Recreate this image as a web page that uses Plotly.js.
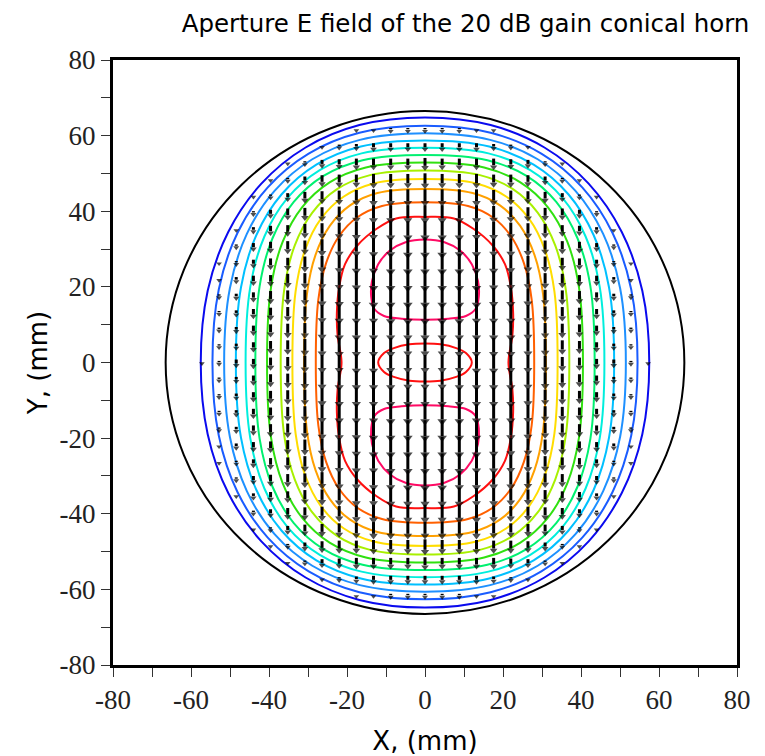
<!DOCTYPE html>
<html><head><meta charset="utf-8">
<script src="https://cdn.plot.ly/plotly-3.0.1.min.js"></script>
<style>html,body{margin:0;padding:0;background:#fff}#chart{width:765px;height:756px}</style>
</head><body><div id="chart"></div>
<script>
// ---------------- DATA (mm) ----------------
const apertureRadius = 66.5;
const tickVals = [-80,-60,-40,-20,0,20,40,60,80];
const tickLabels = ['-80','-60','-40','-20','0','20','40','60','80'];
// arrow grid positions (mm)
const gridPos = [-66,-61.6,-57.2,-52.8,-48.4,-44,-39.6,-35.2,-30.8,-26.4,-22,-17.6,-13.2,-8.8,-4.4,0,
                 4.4,8.8,13.2,17.6,22,26.4,30.8,35.2,39.6,44,48.4,52.8,57.2,61.6,66];
// contour level values (relative |E|), outer -> inner
const levelValues = [0.07,0.14,0.21,0.29,0.36,0.43,0.5,0.57,0.64,0.71,0.79,0.86,0.93];
const levelColors = ['#0a0aee','#1a5cff','#1e90ff','#00c0ff','#00eedd','#00f070','#30e010',
                     '#a8f000','#ffdd00','#ffa000','#ff6000','#ff1010','#ff0a64'];
// quadrant points of each closed contour, from (x,0) to (0,y)
const L1x=[57.5,55.72,50.45,41.96,30.62,16.82,0],  L1y=[0,18.96,34.51,47.29,56.86,62.79,64.8];
const L2x=[54.5,52.88,48.09,40.32,29.83,16.82,0],  L2y=[0,19.32,34.26,46.32,55.24,60.74,62.6];
const L3x=[51.5,50.03,45.68,38.58,28.9,16.7,0],    L3y=[0,19.65,34.01,45.4,53.75,58.87,60.6];
const L4x=[48.5,47.18,43.23,36.76,27.86,16.45,0],  L4y=[0,19.91,33.72,44.49,52.32,57.1,58.7];
const L5x=[46,44.79,41.18,35.24,26.99,16.27,0],    L5y=[0,20.08,33.32,43.51,50.85,55.31,56.8];
const L6x=[43.5,42.4,39.1,33.65,26.03,15.99,0],    L6y=[0,20.18,32.86,42.47,49.35,53.51,54.9];
const L7x=[40.5,39.49,36.48,31.48,24.46,15.16,0],  L7y=[0,19.8,31.95,41.11,47.65,51.58,52.9];
const L8x=[37,36.09,33.39,28.89,22.55,14.09,0],    L8y=[0,19.34,30.96,39.66,45.84,49.56,50.8];
const L9x=[34,33.18,30.74,26.66,20.9,13.17,0],     L9y=[0,18.78,29.82,38.03,43.84,47.34,48.5];
const L10x=[31,30.27,28.07,24.41,19.22,12.2,0],    L10y=[0,18.07,28.46,36.14,41.57,44.82,45.9];
const L11x=[28,27.34,25.36,22.05,17.36,11.02,0],   L11y=[0,16.69,26.29,33.39,38.4,41.4,42.4];
const L12x=[21.4,22.4,22.6,22,20.5,17.3,12.5,7.4,0], L12y=[0,7,13,20,26,31,35.3,38.1,38.5];
// level-12 central dip (closed ellipse-like)
const dipX=[12,10.5,8,4,0], dipY=[0,2.5,3.8,4.8,5];
// level-13 lobes: right half of upper lobe, top -> bottom
const lobeX=[0,5,9,12,13.6,13.8,13,10.5,6,0], lobeY=[32.5,31.8,29.6,26,21.5,17.5,14.2,12.3,11.6,11.3];

// ---------------- BUILD ----------------
function closeQuad(qx,qy){
  const n=qx.length,X=[],Y=[];
  for(let i=0;i<n;i++){X.push(qx[i]);Y.push(qy[i]);}
  for(let i=n-2;i>=0;i--){X.push(-qx[i]);Y.push(qy[i]);}
  for(let i=1;i<n;i++){X.push(-qx[i]);Y.push(-qy[i]);}
  for(let i=n-2;i>=0;i--){X.push(qx[i]);Y.push(-qy[i]);}
  return {X,Y};
}
function closeHalf(hx,hy,s){
  const n=hx.length,X=[],Y=[];
  for(let i=0;i<n;i++){X.push(hx[i]);Y.push(s*hy[i]);}
  for(let i=n-2;i>=0;i--){X.push(-hx[i]);Y.push(s*hy[i]);}
  return {X,Y};
}
const quadX=[L1x,L2x,L3x,L4x,L5x,L6x,L7x,L8x,L9x,L10x,L11x,L12x];
const quadY=[L1y,L2y,L3y,L4y,L5y,L6y,L7y,L8y,L9y,L10y,L11y,L12y];
const rings = quadX.map((qx,i)=>closeQuad(qx,quadY[i]));
const dip = closeQuad(dipX,dipY);
const lobeTop = closeHalf(lobeX,lobeY,1), lobeBot = closeHalf(lobeX,lobeY,-1);

const traces=[];
function lineTrace(c,color){
  return {type:'scatter',mode:'lines',x:c.X,y:c.Y,hoverinfo:'skip',showlegend:false,
          line:{color:color,width:2,shape:'spline',smoothing:1}};
}
rings.forEach((c,i)=>traces.push(lineTrace(c,levelColors[i])));
traces.push(lineTrace(dip,levelColors[11]));
traces.push(lineTrace(lobeTop,levelColors[12]));
traces.push(lineTrace(lobeBot,levelColors[12]));

function inside(px,py,c){
  let r=false; const X=c.X,Y=c.Y,n=X.length;
  for(let i=0,j=n-1;i<n;j=i++){
    if(((Y[i]>py)!==(Y[j]>py)) && (px < (X[j]-X[i])*(py-Y[i])/(Y[j]-Y[i])+X[i])) r=!r;
  }
  return r;
}
// arrows (field points down), length from the contour band of each grid point
const sx=[],sy=[],hx=[],hy=[],hs=[];
const step = gridPos[1]-gridPos[0];
gridPos.forEach(x=>gridPos.forEach(y=>{
  if(Math.hypot(x,y)>apertureRadius) return;
  let b=0;
  for(let k=0;k<11;k++) if(inside(x,y,rings[k])) b++;
  if(inside(x,y,rings[11]) && !inside(x,y,dip)) b++;
  if(inside(x,y,lobeTop)||inside(x,y,lobeBot)) b++;
  if(b===0) return;
  const mag = levelValues[b-1]+0.035;
  const len = mag*step*1.1;
  sx.push(x,x,null); sy.push(y+len/2,y-len/2+0.5,null);
  hx.push(x); hy.push(y-len/2); hs.push(4.5+4*mag);
}));
traces.push({type:'scatter',mode:'lines',x:sx,y:sy,hoverinfo:'skip',showlegend:false,
             line:{color:'#000',width:3}});
traces.push({type:'scatter',mode:'markers',x:hx,y:hy,hoverinfo:'skip',showlegend:false,
             marker:{symbol:'triangle-down',size:hs,color:'#000',line:{width:0}}});

const tickFont={family:'Liberation Serif, Times New Roman, serif',size:27,color:'#222'};
const titleFont={family:'DejaVu Sans, sans-serif',size:24.5,color:'#000'};
function axis(title,standoff){
  return {range:[-80,80],tickmode:'array',tickvals:tickVals,ticktext:tickLabels,
          ticks:'outside',ticklen:9,tickwidth:1,tickcolor:'#333',
          minor:{dtick:10,tick0:-80,ticks:'outside',ticklen:9,tickwidth:1,tickcolor:'#333'},
          showgrid:false,zeroline:false,showline:true,mirror:true,linewidth:3,linecolor:'#000',
          tickfont:tickFont,title:{text:title,font:{...titleFont,size:26},standoff:standoff},
          automargin:false,fixedrange:true};
}
const layout={
  width:765,height:756,margin:{l:113,r:28,t:60,b:91},
  paper_bgcolor:'#fff',plot_bgcolor:'#fff',showlegend:false,
  title:{text:'Aperture E field of the 20 dB gain conical horn',font:titleFont,
         x:0.6085,xref:'container',xanchor:'center',y:0.969,yref:'container',yanchor:'middle'},
  xaxis:axis('X, (mm)',18),
  yaxis:axis('Y, (mm)',5),
  shapes:[{type:'circle',xref:'x',yref:'y',x0:-apertureRadius,x1:apertureRadius,
           y0:-apertureRadius,y1:apertureRadius,line:{color:'#000',width:2},layer:'below'}]
};
Plotly.newPlot('chart',traces,layout,{staticPlot:true,displayModeBar:false});
</script></body></html>
